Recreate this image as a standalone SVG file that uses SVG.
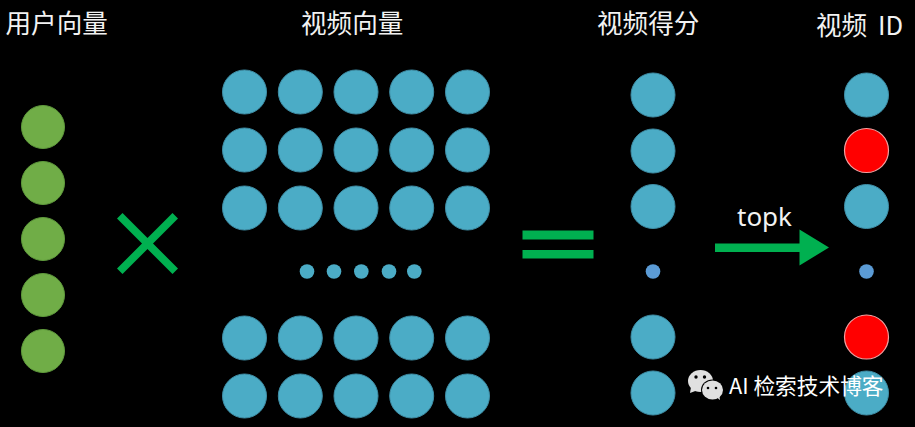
<svg xmlns="http://www.w3.org/2000/svg" width="915" height="427" viewBox="0 0 915 427">
<style>
.t{font-family:"Noto Sans CJK SC","Noto Sans",sans-serif;fill:#f2f2f2;font-size:25.6px}
.g{fill:#70ad47;stroke:#5f9a3c;stroke-width:1}
.b{fill:#4bacc6;stroke:#3f8ea6;stroke-width:1}
.s{fill:#4bacc6}
.d{fill:#5b9bd5}
.r{fill:#ff0000;stroke:#f4a0a0;stroke-width:1.2}
.c{fill:#00b050;stroke:none}
</style>
<rect id="background" width="915" height="427" fill="#000"/>
<g id="labels">
<text class="t" x="5.500" y="33">用户向量</text>
<text class="t" x="301" y="33">视频向量</text>
<text class="t" x="597" y="33">视频得分</text>
<text class="t" x="816" y="35" word-spacing="5">视频 ID</text>
</g>
<g id="user-vector">
<circle class="g" cx="43" cy="127" r="21.5"/><circle class="g" cx="43" cy="183" r="21.5"/><circle class="g" cx="43" cy="239" r="21.5"/><circle class="g" cx="43" cy="295" r="21.5"/><circle class="g" cx="43" cy="351" r="21.5"/>
</g>
<g id="video-matrix">
<circle class="b" cx="244.500" cy="92" r="22"/><circle class="b" cx="300.300" cy="92" r="22"/><circle class="b" cx="356" cy="92" r="22"/><circle class="b" cx="411.700" cy="92" r="22"/><circle class="b" cx="467.500" cy="92" r="22"/>
<circle class="b" cx="244.500" cy="150" r="22"/><circle class="b" cx="300.300" cy="150" r="22"/><circle class="b" cx="356" cy="150" r="22"/><circle class="b" cx="411.700" cy="150" r="22"/><circle class="b" cx="467.500" cy="150" r="22"/>
<circle class="b" cx="244.500" cy="208" r="22"/><circle class="b" cx="300.300" cy="208" r="22"/><circle class="b" cx="356" cy="208" r="22"/><circle class="b" cx="411.700" cy="208" r="22"/><circle class="b" cx="467.500" cy="208" r="22"/>
<circle class="s" cx="307" cy="271.500" r="7.300"/><circle class="s" cx="334" cy="271.500" r="7.300"/><circle class="s" cx="361.300" cy="271.500" r="7.300"/><circle class="s" cx="389" cy="271.500" r="7.300"/><circle class="s" cx="414.300" cy="271.500" r="7.300"/>
<circle class="b" cx="244.500" cy="338" r="22"/><circle class="b" cx="300.300" cy="338" r="22"/><circle class="b" cx="356" cy="338" r="22"/><circle class="b" cx="411.700" cy="338" r="22"/><circle class="b" cx="467.500" cy="338" r="22"/>
<circle class="b" cx="244.500" cy="396" r="22"/><circle class="b" cx="300.300" cy="396" r="22"/><circle class="b" cx="356" cy="396" r="22"/><circle class="b" cx="411.700" cy="396" r="22"/><circle class="b" cx="467.500" cy="396" r="22"/>
</g>
<g id="video-scores">
<circle class="b" cx="653" cy="95" r="22"/><circle class="b" cx="653" cy="151" r="22"/><circle class="b" cx="653" cy="206.500" r="22"/><circle class="d" cx="653" cy="271.500" r="7.300"/><circle class="b" cx="653" cy="337" r="22"/><circle class="b" cx="653" cy="393" r="22"/>
</g>
<g id="video-ids">
<circle class="b" cx="866.500" cy="95" r="22"/><circle class="r" cx="866.500" cy="150.500" r="22"/><circle class="b" cx="866.500" cy="206.500" r="22"/><circle class="d" cx="866.500" cy="271.500" r="7.300"/><circle class="r" cx="866.500" cy="337" r="22"/><circle class="b" cx="866.500" cy="393" r="22"/>
</g>
<g id="connectors">
<path class="c" d="M122.500 213L147.500 238L172.500 213L178 218.500L153 243.500L178 268.500L172.500 274L147.500 249L122.500 274L117 268.500L142 243.500L117 218.500Z"/>
<rect class="c" x="522.500" y="230.500" width="71" height="9"/>
<rect class="c" x="522.500" y="250" width="71" height="8.500"/>
<path class="c" d="M715 243.500H799.500V229.500L829 247.500L799.500 265.500V252H715Z"/>
</g>
<g id="topk"><text x="737" y="226" font-family="'Noto Sans','Open Sans',sans-serif" font-size="26" fill="#f2f2f2">topk</text></g>
<g id="watermark">
<ellipse cx="700.500" cy="381" rx="12.500" ry="11" fill="#e0e0e0"/>
<path d="M691 387L690 393L698 390Z" fill="#e0e0e0"/>
<ellipse cx="712.500" cy="390" rx="11.500" ry="10.500" fill="#000"/>
<ellipse cx="712.500" cy="390" rx="10.500" ry="9.500" fill="#e0e0e0"/>
<path d="M715 396L720 400L719 393Z" fill="#e0e0e0"/>
<circle cx="696" cy="377" r="1.700" fill="#000"/><circle cx="704.500" cy="377" r="1.700" fill="#000"/>
<circle cx="708" cy="388" r="1.300" fill="#000"/><circle cx="716" cy="388" r="1.300" fill="#000"/>
<text x="729" y="394" font-family="'Noto Sans CJK SC','Noto Sans',sans-serif" font-size="21.7" fill="#fff">AI 检索技术博客</text>
</g>
</svg>
